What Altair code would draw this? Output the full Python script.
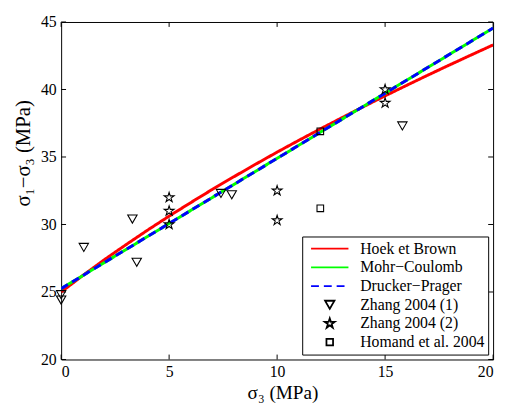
import altair as alt
import pandas as pd

# ---- data ----
labels = ["Hoek et Brown", "Mohr\u2212Coulomb", "Drucker\u2212Prager",
          "Zhang 2004 (1)", "Zhang 2004 (2)", "Homand et al. 2004"]

hb_s3 = [0, 1, 2, 3, 4, 5, 6, 7, 8, 9, 10, 11, 12, 13, 14, 15, 16, 17, 18, 19, 20]
hb_q = [25.00, 26.22, 27.39, 28.50, 29.58, 30.62, 31.62, 32.60, 33.54, 34.46, 35.36,
        36.23, 37.08, 37.91, 38.73, 39.53, 40.31, 41.08, 41.83, 42.57, 43.30]
mc_s3 = [0, 20]
mc_q = [25.25, 44.55]
dp_s3 = [0, 20]
dp_q = [25.25, 44.55]

z1_s3 = [0, 0, 1.05, 3.3, 3.5, 7.4, 7.9, 15.8]
z1_q = [24.8, 24.4, 28.3, 30.4, 27.2, 32.3, 32.2, 37.3]
z2_s3 = [5, 5, 5, 10, 10, 15, 15]
z2_q = [32.0, 31.0, 30.0, 32.5, 30.3, 40.0, 39.0]
h_s3 = [12, 12]
h_q = [36.9, 31.2]

x_ticks = [0, 5, 10, 15, 20]
y_ticks = [20, 25, 30, 35, 40, 45]

# ---- build tables ----
def lines_df(s3, q, name):
    return pd.DataFrame({"s3": s3, "q": q, "series": name})

hb = lines_df(hb_s3, hb_q, labels[0])
mc = lines_df(mc_s3, mc_q, labels[1])
dp = lines_df(dp_s3, dp_q, labels[2])
pts = pd.concat([
    lines_df(z1_s3, z1_q, labels[3]),
    lines_df(z2_s3, z2_q, labels[4]),
    lines_df(h_s3, h_q, labels[5]),
])
xt = pd.DataFrame({"v": x_ticks})
yt = pd.DataFrame({"v": y_ticks})

W, H = 439, 343
FONT = "Liberation Serif, Times New Roman, serif"
STAR = ("M0,-1L0.2245,-0.309L0.9511,-0.309L0.3633,0.118L0.5878,0.809L0,0.382"
        "L-0.5878,0.809L-0.3633,0.118L-0.9511,-0.309L-0.2245,-0.309Z")

xscale = alt.Scale(domain=[0, 20], nice=False, zero=False)
yscale = alt.Scale(domain=[20, 45], nice=False, zero=False)

color_scale = alt.Scale(domain=labels,
                        range=["#ff0000", "#00ff00", "#0000ff", "black", "black", "black"])
dash_scale = alt.Scale(domain=labels,
                       range=[[1, 0], [1, 0], [8, 5], [1, 0], [1, 0], [1, 0]])
shape_scale = alt.Scale(domain=labels,
                        range=["stroke", "stroke", "stroke", "triangle-down", STAR, "square"])
size_scale = alt.Scale(type="ordinal", domain=labels,
                       range=[1444, 1444, 1444, 90, 110, 45])

legend = alt.Legend(title=None, orient="none", legendX=245, legendY=218,
                    strokeColor="black", fillColor="white", padding=3,
                    symbolOffset=5,
                    labelFont=FONT, labelFontSize=16, labelOffset=11,
                    symbolStrokeWidth=1.8, clipHeight=18.8, rowPadding=0,
                    labelColor="black")

xaxis = alt.Axis(values=x_ticks, ticks=False, domain=False, grid=False,
                 labelFont=FONT, labelFontSize=16, labelColor="black", labelPadding=4,
                 title="\u03c3\u2083 (MPa)", titleFont=FONT, titleFontSize=19.5,
                 titleFontWeight="normal", titleColor="black",
                 titleX=225, titleY=40, titleAlign="center", titleBaseline="alphabetic")
yaxis = alt.Axis(values=y_ticks, ticks=False, domain=False, grid=False,
                 labelFont=FONT, labelFontSize=16, labelColor="black", labelPadding=5,
                 title="\u03c3\u2081\u2212\u03c3\u2083 (MPa)", titleFont=FONT, titleFontSize=21,
                 titleFontWeight="normal", titleColor="black",
                 titleX=-38, titleY=133, titleAlign="center", titleBaseline="middle",
                 titleAngle=270)

X = alt.X("s3:Q", scale=xscale, axis=xaxis)
Y = alt.Y("q:Q", scale=yscale, axis=yaxis)

def line_layer(df):
    return alt.Chart(df).mark_line(strokeWidth=3, clip=True).encode(
        x=X, y=Y,
        color=alt.Color("series:N", scale=color_scale, legend=legend),
        strokeDash=alt.StrokeDash("series:N", scale=dash_scale, legend=legend),
    )

points = alt.Chart(pts).mark_point(filled=False, strokeWidth=1.1, opacity=1).encode(
    x=X, y=Y,
    color=alt.Color("series:N", scale=color_scale, legend=legend),
    shape=alt.Shape("series:N", scale=shape_scale, legend=legend),
    size=alt.Size("series:N", scale=size_scale, legend=legend),
)

TL = 5
tick_b = alt.Chart(xt).mark_rule(color="black", strokeWidth=1).encode(
    x=alt.X("v:Q", scale=xscale, axis=xaxis), y=alt.value(H), y2=alt.value(H - TL))
tick_t = alt.Chart(xt).mark_rule(color="black", strokeWidth=1).encode(
    x=alt.X("v:Q", scale=xscale, axis=xaxis), y=alt.value(0), y2=alt.value(TL))
tick_l = alt.Chart(yt).mark_rule(color="black", strokeWidth=1).encode(
    y=alt.Y("v:Q", scale=yscale, axis=yaxis), x=alt.value(0), x2=alt.value(TL))
tick_r = alt.Chart(yt).mark_rule(color="black", strokeWidth=1).encode(
    y=alt.Y("v:Q", scale=yscale, axis=yaxis), x=alt.value(W - TL), x2=alt.value(W))

chart = alt.layer(
    tick_b, tick_t, tick_l, tick_r,
    line_layer(hb), line_layer(mc), line_layer(dp), points,
).properties(
    width=W, height=H,
    autosize=alt.AutoSizeParams(type="none"),
    padding={"left": 54, "top": 11, "right": 6, "bottom": 42},
    background="white",
).configure_view(
    stroke="black", strokeWidth=1
)

chart.save("out.html", embed_options={"renderer": "svg", "actions": False})
